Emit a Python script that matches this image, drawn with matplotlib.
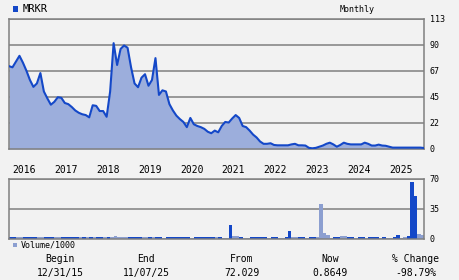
import numpy as np
import matplotlib
matplotlib.use("Agg")
import matplotlib.pyplot as plt
from matplotlib.patches import Rectangle
from matplotlib.transforms import blended_transform_factory

# monthly closing price, Dec 2015 .. Nov 2025
price = [72, 71, 76, 81, 75, 68, 60, 54, 57, 66,
         50, 44, 38.5, 41, 45, 44.5, 40, 39, 36.5, 33.5,
         31.5, 30.2, 29.5, 27.5, 38, 37.5, 33, 33, 28, 50,
         92, 73, 87, 90, 88, 71, 57, 53.7, 62, 65,
         55, 60, 79, 47, 51, 50, 39, 33.5, 29, 26,
         23.5, 19, 27, 21.5, 20, 19, 17.5, 15, 13.7, 16,
         14.5, 20, 23.5, 23, 26.5, 29.5, 27, 20, 19, 16,
         12.5, 10, 6.5, 4.5, 4.5, 5, 3.5, 3.2, 3.2, 3.2,
         3.2, 4, 4.5, 3.2, 3.2, 3, 1, 0.6, 1, 2,
         3, 4.5, 5.5, 4, 2, 3.5, 5.5, 4.5, 4, 4,
         4, 4, 5.5, 4.5, 3, 3, 3.8, 3, 2.8, 2,
         1.2, 1.2, 1.2, 1.2, 1.2, 1.2, 1.2, 1.2, 1.2, 0.86]

# monthly volume / 1000 (119 bars)
volume = [2.5, 2, 2, 2, 2.5, 2.5, 2, 2, 2, 2,
          2.5, 2, 2, 2, 2, 2.5, 2.5, 2, 2, 2,
          2, 2, 2, 2, 2, 2.5, 2, 2, 2, 2,
          3.5, 2, 2, 2, 2.5, 2.5, 2.5, 2.5, 2, 2,
          2, 2, 2.5, 2.5, 1.5, 2, 2, 2, 2, 2,
          2, 2, 1.5, 2, 2, 2, 2, 2, 2, 2,
          2, 1.5, 1.5, 16.3, 3.5, 3.5, 2.3, 1.5, 1.5, 2,
          2, 2, 2, 2.5, 1.5, 2, 2, 1.5, 1.5, 2,
          9.3, 2, 2, 2, 2, 1.5, 2, 2, 2, 40.8,
          7.4, 4.7, 1.5, 2, 2, 3, 3, 2, 2, 1.5,
          2, 2, 1.5, 2, 2, 2, 1.5, 2, 1.5, 1.5,
          2, 4.7, 1, 2.5, 3, 67, 50.5, 5.5, 4.7]

# d = up month (dark), l = down month (light)
vol_dir = ("ddlldddd" "lldddlldddddldld" "ldd" "ldl" "llll" "dddd" "lldl"
           "ddl" "dddddddl" "ddddddl" "dll" "dll" "dll" "dddddl" "dd" "ll"
           "ddlldd" "ldd" "lllllddlldd" "ldd" "ldddldll" "ddlldddll")

years = [2016, 2017, 2018, 2019, 2020, 2021, 2022, 2023, 2024, 2025]
price_ticks = [0, 22.6, 45.2, 67.8, 90.4, 113]
vol_ticks = [0, 35, 70]

ticker = "MRKR"
begin_date, end_date = "12/31/15", "11/07/25"
from_price, now_price, pct_change = "72.029", "0.8649", "-98.79%"

BG = "#f2f2f2"
GRID = "#808080"
DARK = "#1448c8"
LIGHT = "#8c9fd0"
FILL = "#9caedc"
MONO = "DejaVu Sans Mono"

fig = plt.figure(figsize=(4.6, 2.8), dpi=100, facecolor=BG)

# price panel
ax = fig.add_axes([9 / 460, 1 - 149 / 280, 415 / 460, 130 / 280], facecolor=BG)
months = np.arange(len(price))
ax.fill_between(months, price, 0, color=FILL, lw=0, zorder=2)
ax.plot(months, price, color=DARK, lw=1.5, zorder=3)
ax.set_xlim(0, len(price) - 1)
ax.set_ylim(0, 113)
ax.set_yticks(price_ticks)
ax.set_yticklabels([str(int(v)) for v in price_ticks])
ax.yaxis.tick_right()
ax.tick_params(axis="y", length=0, pad=4, labelsize=6)
ax.set_xticks([])
ax.grid(axis="y", color=GRID, lw=1.1, zorder=1)
for s in ax.spines.values():
    s.set_color(GRID)
    s.set_linewidth(1.1)
for lbl in ax.get_yticklabels():
    lbl.set_family(MONO)

# year labels, left-aligned at January
tr = blended_transform_factory(ax.transData, fig.transFigure)
for y in years:
    fig.text(1 + 12 * (y - 2016), 1 - 170 / 280, str(y), transform=tr,
             ha="left", va="center", fontsize=7, family=MONO)

# volume panel
vax = fig.add_axes([9 / 460, 1 - 239 / 280, 415 / 460, 60 / 280], facecolor=BG)
bar_x = np.arange(len(volume))
colors = [DARK if c == "d" else LIGHT for c in vol_dir[:len(volume)]]
vax.bar(bar_x, volume, width=1.0, align="edge", color=colors, lw=0, zorder=2)
vax.set_xlim(0, len(price) - 1)
vax.set_ylim(0, 70)
vax.set_yticks(vol_ticks)
vax.yaxis.tick_right()
vax.tick_params(axis="y", length=0, pad=4, labelsize=6)
vax.set_xticks([])
vax.grid(axis="y", color=GRID, lw=1.1, zorder=1)
for s in vax.spines.values():
    s.set_color(GRID)
    s.set_linewidth(1.1)
for lbl in vax.get_yticklabels():
    lbl.set_family(MONO)

# header
fig.patches.append(Rectangle((13 / 460, 1 - 11.5 / 280), 5 / 460, 5 / 280,
                             transform=fig.transFigure, color=DARK, lw=0))
fig.text(23 / 460, 1 - 9 / 280, ticker, fontsize=7.5, family=MONO, va="center", ha="left")
fig.text(357 / 460, 1 - 9 / 280, "Monthly", fontsize=6, family=MONO, va="center", ha="center")

# volume legend
fig.patches.append(Rectangle((13 / 460, 1 - 247 / 280), 4 / 460, 4 / 280,
                             transform=fig.transFigure, color=LIGHT, lw=0))
fig.text(21 / 460, 1 - 245 / 280, "Volume/1000", fontsize=6, family=MONO, va="center", ha="left")

# summary rows
cols = [(60, "Begin", begin_date), (146, "End", end_date), (242, "From", from_price),
        (330, "Now", now_price), (416, "% Change", pct_change)]
for cx, head, val in cols:
    fig.text(cx / 460, 1 - 259 / 280, head, fontsize=7, family=MONO, ha="center", va="center")
    fig.text(cx / 460, 1 - 273 / 280, val, fontsize=7, family=MONO, ha="center", va="center")

fig.savefig("out.png", dpi=100, facecolor=BG)
